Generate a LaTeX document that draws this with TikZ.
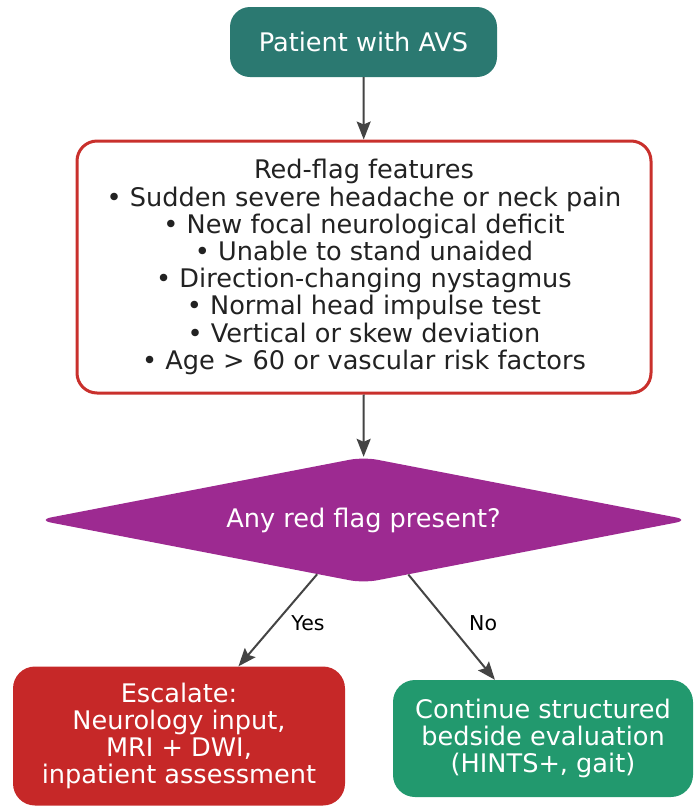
\documentclass[tikz,border=0pt]{standalone}
\usepackage{fontspec}
\setmainfont{DejaVu Sans}
\usetikzlibrary{shapes.geometric,arrows.meta}
\definecolor{tealc}{RGB}{43,121,113}
\definecolor{redborder}{RGB}{201,48,44}
\definecolor{purplec}{RGB}{157,42,145}
\definecolor{escred}{RGB}{198,40,40}
\definecolor{contgreen}{RGB}{34,153,110}
\definecolor{arrowgray}{RGB}{68,68,68}
\definecolor{textdark}{RGB}{34,34,34}
\tikzset{
  boxbase/.style={rounded corners=20pt, inner sep=0pt, align=center},
  conn/.style={draw=arrowgray, line width=2pt, -{Stealth[length=18pt,width=14pt,inset=3pt]}},
  edgelabel/.style={font=\fontsize{20.5}{22}\selectfont, text=black, inner sep=0pt, anchor=west}
}
\begin{document}
\begin{tikzpicture}[x=1pt,y=-1pt]
\useasboundingbox (0,0) rectangle (695,807);
\node[boxbase, fill=tealc, text=white, minimum width=267pt, minimum height=70pt,
      font=\fontsize{25.6}{27.2}\selectfont] (start) at (363.5,42) {Patient with AVS};
\node[boxbase, fill=white, draw=redborder, line width=3pt, text=textdark,
      minimum width=574pt, minimum height=252pt,
      font=\fontsize{25.6}{27.2}\selectfont] (flags) at (364,267)
  {Red-flag features\\
   • Sudden severe headache or neck pain\\
   • New focal neurological deficit\\
   • Unable to stand unaided\\
   • Direction-changing nystagmus\\
   • Normal head impulse test\\
   • Vertical or skew deviation\\
   • Age > 60 or vascular risk factors};
\node[diamond, aspect=5.3, fill=purplec, rounded corners=14pt, inner sep=0pt,
      minimum width=652pt, minimum height=126pt, text=white,
      font=\fontsize{25.6}{27.2}\selectfont] (dec) at (363.5,520) {Any red flag present?};
\node[boxbase, rounded corners=22pt, fill=escred, text=white, minimum width=332pt, minimum height=139pt,
      font=\fontsize{25.6}{27.2}\selectfont] (esc) at (179,736)
  {Escalate:\\Neurology input,\\MRI + DWI,\\inpatient assessment};
\node[boxbase, rounded corners=22pt, fill=contgreen, text=white, minimum width=300pt, minimum height=117pt,
      font=\fontsize{25.6}{27.2}\selectfont] (cont) at (543,738.5)
  {Continue structured\\bedside evaluation\\(HINTS+, gait)};
\draw[conn] (start) -- (flags);
\draw[conn] (flags) -- (dec);
\draw[conn] (dec) -- node[edgelabel, pos=0.53, xshift=15pt] {Yes} (esc);
\draw[conn] (dec) -- node[edgelabel, pos=0.46, xshift=20pt] {No} (cont);
\end{tikzpicture}
\end{document}
